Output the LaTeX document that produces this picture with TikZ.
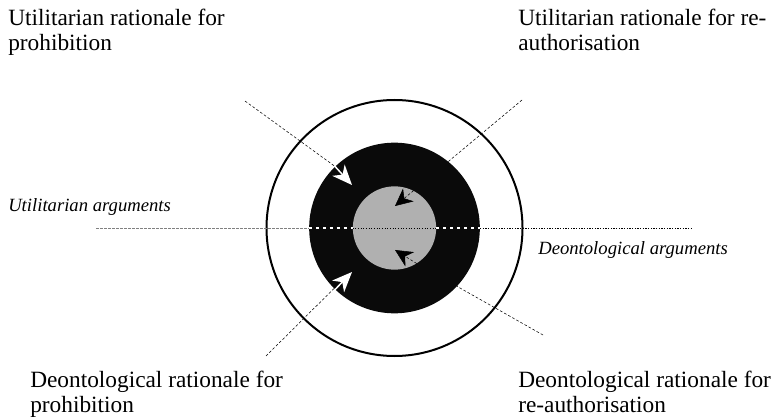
\documentclass[tikz,border=0pt]{standalone}
\usepackage{fontspec}
\setmainfont{Liberation Serif}
\usetikzlibrary{arrows.meta}

\tikzset{
  rationale/.style={anchor=north west, inner sep=0pt, align=left, font=\fontsize{17.5}{18.75}\selectfont},
  argument/.style={anchor=base west, inner sep=0pt, font=\fontsize{14}{16}\selectfont\itshape},
  guide/.style={line width=0.4pt, dash pattern=on 2pt off 1.5pt},
  whitedots/.style={white, line width=1.8pt, dash pattern=on 2.2pt off 3pt},
  pushout/.style={white, line width=1.1pt, -{Stealth[length=15pt,width=12.5pt,inset=4.5pt]}},
  pushin/.style={guide, -{Stealth[length=13pt,width=12.5pt,inset=4pt]}},
}

\begin{document}
\begin{tikzpicture}[x=0.75pt,y=-0.75pt]
\useasboundingbox (0,0) rectangle (778,420);

% circles
\node[circle, draw, line width=1.5pt, minimum size=192pt, inner sep=0pt] (outer) at (394.5,228) {};
\node[circle, fill=black!96, minimum size=128pt, inner sep=0pt] (ring) at (394.5,228) {};
\node[circle, fill=black!31, minimum size=62.5pt, inner sep=0pt] (core) at (394.5,228) {};

% labels
\node[rationale] (utilProhib) at (8,9) {Utilitarian rationale for\\prohibition};
\node[rationale] (utilReauth) at (518,9) {Utilitarian rationale for re-\\authorisation};
\node[rationale] (deonProhib) at (30,371) {Deontological rationale for\\prohibition};
\node[rationale] (deonReauth) at (518,371) {Deontological rationale for\\re-authorisation};
\node[argument] (utilArg) at (8,212) {Utilitarian arguments};
\node[argument] (deonArg) at (538,255) {Deontological arguments};

% axis of arguments
\coordinate (argL) at (96,228);
\coordinate (argR) at (693,228);
\draw[gray, line width=0.5pt, dash pattern=on 2pt off 1pt] (argL) -- (ring.west);
\draw[whitedots] (ring.west) -- (core.west);
\draw[whitedots] (core.east) -- (ring.east);
\draw[line width=0.6pt, dash pattern=on 0.8pt off 1.2pt] (core.west) -- (core.east);
\draw[line width=0.6pt, dash pattern=on 0.8pt off 1.2pt] (ring.east) -- (argR);

% rationales pointing inwards
\coordinate (ulTail) at (245,101);
\coordinate (urTail) at (522,100);
\coordinate (llTail) at (266,356);
\coordinate (lrTail) at (543,335);
\coordinate (ulTip) at (352,185);
\coordinate (llTip) at (352,272);
\coordinate (urTip) at (395,206);
\coordinate (lrTip) at (395,250);

\draw[guide] (ulTail) -- (ring.134);
\draw[guide] (urTail) -- (ring.51);
\draw[guide] (llTail) -- (ring.-135);
\draw[guide] (lrTail) -- (ring.-43);
\draw[pushout] (ring.134) -- (ulTip);
\draw[pushout] (ring.-134) -- (llTip);
\draw[pushin] (core.63) -- (urTip);
\draw[pushin] (core.-58) -- (lrTip);
\end{tikzpicture}
\end{document}
